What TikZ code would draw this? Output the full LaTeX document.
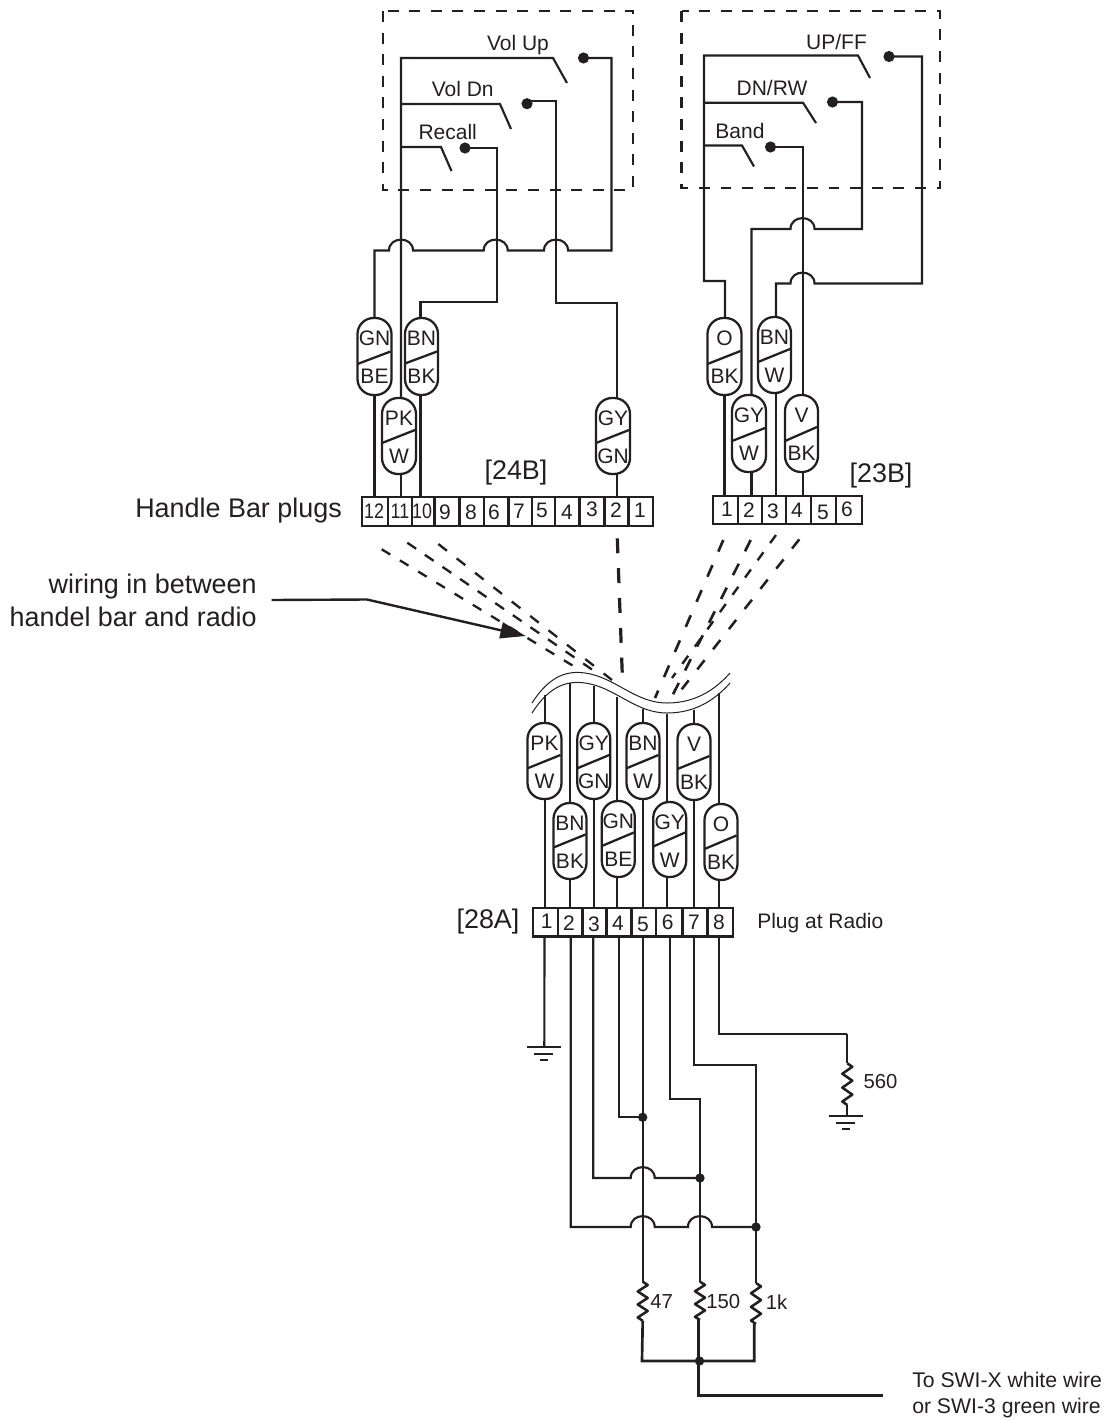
\documentclass[tikz,border=0pt]{standalone}
\usepackage{fontspec}
\usepackage{graphicx}
\setmainfont{Liberation Sans}
\usetikzlibrary{arrows.meta}
\definecolor{ink}{HTML}{231F20}
\tikzset{
  wire/.style={draw=ink,line width=1.6pt,line join=miter},
  heavywire/.style={draw=ink,line width=2pt},
  capsulebox/.style={draw=ink,line width=1.7pt,rounded corners=12pt,inner sep=0pt,outer sep=0pt},
  capline/.style={draw=ink,line width=1.7pt},
  lab/.style={text=ink,font=\fontsize{15.75}{18}\selectfont,inner sep=0pt,anchor=base},
  biglab/.style={text=ink,font=\fontsize{20.2}{24.75}\selectfont,inner sep=0pt},
  smalllab/.style={text=ink,font=\fontsize{15.2}{18}\selectfont,inner sep=0pt},
  cellbox/.style={draw=ink,line width=1.8pt,inner sep=0pt,outer sep=0pt},
  heavycell/.style={cellbox,line width=2.1pt},
  cellnum/.style={text=ink,font=\fontsize{15.75}{18}\selectfont,inner sep=0pt},
  bigdot/.style={circle,fill=ink,inner sep=0pt,minimum size=8.4pt},
  smalldot/.style={circle,fill=ink,inner sep=0pt,minimum size=7pt},
  boxdash/.style={draw=ink,line width=1.7pt,dash pattern=on 8.2pt off 8pt},
  cutline/.style={draw=ink,line width=0.75pt},
  resistor/.style={draw=ink,line width=1.9pt,line join=round}
}
% name, cx, top, width, height, upper, lower, left y of slash, right y of slash
\newcommand\capsule[9]{%
  \node[capsulebox,minimum width={#4*0.75pt},minimum height={#5*0.75pt}] (#1) at ({#2},{#3+#5/2}) {};
  \draw[capline] ({#2-#4/2},#8) -- ({#2+#4/2-1},#9);
  \node[lab] (#1u) at ({#2},{#3+27}) {#6};
  \node[lab] (#1l) at ({#2},{#3+65}) {#7};
}
% style, name, x1, x2, y1, y2, digit, text x, text y
\newcommand\cell[9]{%
  \node[#1,minimum width={(#4-#3)*0.75pt},minimum height={(#6-#5)*0.75pt}] (#2) at ({(#3+#4)/2},{(#5+#6)/2}) {};
  \node[cellnum] (#2t) at (#8,#9) {#7};
}
\newcommand\nar[1]{\scalebox{0.85}[1]{#1}}
% name, x1,y1, x2,y2, on, off, width (pt)
\newcommand\dashwire[8]{%
  \coordinate (#1a) at (#2,#3);
  \coordinate (#1b) at (#4,#5);
  \draw[draw=ink,line width=#8pt,dash pattern=on #6pt off #7pt] (#1a) -- (#1b);
}
% name, x, y1, y2
\newcommand\zigres[4]{%
  \coordinate (#1a) at (#2,#3);
  \coordinate (#1b) at (#2,#4);
  \draw[resistor] (#1a) -- ({#2+5},{#3+(#4-#3)/12}) -- ({#2-5},{#3+3*(#4-#3)/12}) -- ({#2+5},{#3+5*(#4-#3)/12})
    -- ({#2-5},{#3+7*(#4-#3)/12}) -- ({#2+5},{#3+9*(#4-#3)/12}) -- ({#2-5},{#3+11*(#4-#3)/12}) -- (#1b);
}
\def\hopr#1#2{-- ({#1-12},#2) .. controls ({#1-12},{#2-14.5}) and ({#1+12},{#2-14.5}) .. ({#1+12},#2)}
\def\hopl#1#2{-- ({#1+12},#2) .. controls ({#1+12},{#2-14.5}) and ({#1-12},{#2-14.5}) .. ({#1-12},#2)}
\newcommand\gnd[3]{%
  \coordinate (#1) at (#2,#3);
  \draw[draw=ink,line width=1.7pt] ({#2-17},#3) -- ({#2+17},#3);
  \draw[draw=ink,line width=1.7pt] ({#2-10},{#3+7}) -- ({#2+9},{#3+7});
  \draw[draw=ink,line width=1.7pt] ({#2-4},{#3+13}) -- ({#2+4},{#3+13});
}
\begin{document}
\begin{tikzpicture}[x=0.75pt,y=-0.75pt]
\useasboundingbox (0,0) rectangle (1107,1421);

% ---- dashed switch boxes
\draw[boxdash] (383,11) rectangle (633,190);
\draw[boxdash] (681.5,11) rectangle (940,188);

% ---- switch labels
\node[lab] (tUp) at (518,50) {Vol Up};
\node[lab] (tDn) at (462.7,96.7) {Vol Dn};
\node[lab] (tRe) at (447.7,139.3) {Recall};
\node[lab] (tUF) at (836.5,49) {UP/FF};
\node[lab] (tDR) at (772,95) {DN/RW};
\node[lab] (tBa) at (740,138.3) {Band};

% ---- contacts
\node[bigdot] (dUp) at (583.5,58) {};
\node[bigdot] (dDn) at (527,103.7) {};
\node[bigdot] (dRe) at (465,148) {};
\node[bigdot] (dUF) at (889,56.5) {};
\node[bigdot] (dDR) at (832.5,102) {};
\node[bigdot] (dBa) at (770.5,147) {};
\coordinate (bUp) at (567,83);
\coordinate (bDn) at (511,129);
\coordinate (bRe) at (451.5,171);
\coordinate (bUF) at (870,78);
\coordinate (bDR) at (816,123);
\coordinate (bBa) at (754,166.5);

% ---- capsules, handle bar side
\capsule{GNBE}{374.5}{318}{34}{77}{GN}{BE}{364}{351.5}
\capsule{BNBK}{421.5}{318}{33}{77}{BN}{BK}{363.5}{351.5}
\capsule{PKW}{399}{398}{34}{76}{PK}{W}{443}{430}
\capsule{GYGN}{613}{398}{34}{76}{GY}{GN}{443}{430}
\capsule{OBK}{724.5}{318}{34}{77}{O}{BK}{364}{351}
\capsule{BNW}{774.5}{317}{33}{76}{BN}{W}{362}{349}
\capsule{GYW}{749}{395}{34}{77}{GY}{W}{441}{428}
\capsule{VBK}{801.5}{395}{33}{77}{V}{BK}{441}{427}

% ---- connector 24B
\cell{cellbox}{hA}{362}{387.7}{497}{526}{\nar{12}}{374}{511}
\cell{cellbox}{hB}{387.7}{411.7}{497}{526}{\nar{11}}{400}{511}
\cell{cellbox}{hC}{411.7}{434.3}{497}{526}{\nar{10}}{422}{511}
\cell{cellbox}{hD}{434.3}{459.3}{497}{526}{9}{445}{512}
\cell{cellbox}{hE}{459.3}{484}{497}{526}{8}{471}{512.5}
\cell{cellbox}{hF}{484}{508.3}{497}{526}{6}{494}{512.5}
\cell{cellbox}{hG}{508.3}{531.7}{497}{526}{7}{519}{511}
\cell{cellbox}{hH}{531.7}{555}{497}{526}{5}{542}{510}
\cell{cellbox}{hI}{555}{579.3}{497}{526}{4}{567}{512}
\cell{cellbox}{hJ}{579.3}{604.3}{497}{526}{3}{592}{509.5}
\cell{cellbox}{hK}{604.3}{628.3}{497}{526}{2}{616}{510}
\cell{cellbox}{hL}{628.3}{653}{497}{526}{1}{640}{510}

% ---- connector 23B
\cell{cellbox}{rA}{713}{738}{496}{524}{1}{727}{509}
\cell{cellbox}{rB}{738}{762}{496}{524}{2}{749}{510}
\cell{cellbox}{rC}{762}{786}{496}{524}{3}{773}{511}
\cell{cellbox}{rD}{786}{810.7}{496}{524}{4}{797}{510}
\cell{cellbox}{rE}{810.7}{835.7}{496}{524}{5}{823}{512}
\cell{cellbox}{rF}{835.7}{861.7}{496}{524}{6}{847}{509}

% ---- wiring, left switch box
\draw[wire] (bUp) -- (553,58) -| (PKW.north -| 401,0);
\draw[wire] (bDn) -- (500,104) -- (401,104);
\draw[wire] (bRe) -- (441,147) -- (401,147);
\draw[wire] (dUp.center) -| (611.5,250.5) \hopl{556}{250.5} \hopl{495.7}{250.5} \hopl{401}{250.5} -| (GNBE.north);
\draw[wire] ([yshift=2pt]dDn.center) -| (556,303) -| (GYGN.north -| 617,0);
\draw[wire] (dRe.center) -| (497,302) -| (BNBK.north -| 420.5,0);
\draw[wire] (GNBE.south) -- (GNBE.south |- hA.north);
\draw[wire] (PKW.south -| 401,0) -- (hB.north -| 401,0);
\draw[wire] (BNBK.south -| 420.5,0) -- (hC.north -| 420.5,0);
\draw[wire] (GYGN.south -| 617,0) -- (hK.north -| 617,0);

% ---- wiring, right switch box
\draw[wire] (bUF) -- (858,55.5) -- (704,55.5) |- (725,281) -- (OBK.north -| 725,0);
\draw[wire] (bDR) -- (803,102.7) -- (704,102.7);
\draw[wire] (bBa) -- (742,145.5) -- (704,145.5);
\draw[wire] (dUF.center) -| (922,283.5) \hopl{802.5}{283.5} -| (BNW.north -| 776,0);
\draw[wire] (dDR.center) -| (862,229) \hopl{802.5}{229} -| (GYW.north -| 751.5,0);
\draw[wire] (dBa.center) -| (VBK.north -| 802.7,0);
\draw[wire] (OBK.south) -- (rA.north -| OBK.south);
\draw[wire] (GYW.south -| 751.5,0) -- (rB.north -| 751.5,0);
\draw[wire] (BNW.south -| 776,0) -- (rC.north -| 776,0);
\draw[wire] (VBK.south -| 802.7,0) -- (rD.north -| 802.7,0);

% ---- texts around plugs
\node[biglab,anchor=center] (t24) at (516,473) {[24B]};
\node[biglab,anchor=center] (t23) at (881,476) {[23B]};
\node[biglab,anchor=center] (t28) at (488,922) {[28A]};
\node[biglab,anchor=west] (tHB) at (135,511) {Handle Bar plugs};
\node[biglab,anchor=east,align=right] (tWiring) at (257,600) {wiring in between\\handel bar and radio};
\node[lab,anchor=west] (tPlug) at (757,923) {Plug at Radio};

% ---- pointer arrow
\coordinate (aBend) at (367,599.5);
\coordinate (aTip) at (525.7,636);
\draw[draw=ink,line width=1.8pt,-{Triangle[length=19pt,width=12pt]}] ([xshift=11pt]tWiring.east) -- (aBend) -- (aTip);

% ---- dashed wires between the plugs
\dashwire{xa}{381.7}{549.3}{575}{667}{7.5}{8.5}{1.75}
\dashwire{xb}{407.3}{542.7}{600}{675}{8}{8}{1.75}
\dashwire{xc}{438.3}{544}{612}{680}{8.2}{9.3}{1.75}
\dashwire{xd}{617.3}{538.3}{622.7}{686}{11.2}{11.2}{2.4}
\dashwire{xe}{723.3}{540}{655}{698}{9.5}{11}{2}
\dashwire{xf}{750.7}{540}{671.7}{697}{9.5}{10.5}{2}
\dashwire{xg}{776}{535}{672}{678}{7.5}{8.5}{1.8}
\dashwire{xh}{799.3}{539.3}{681.7}{689.3}{8.8}{10.4}{1.9}

% ---- cable break
\draw[cutline] (532,703) .. controls (548,678) and (565,670) .. (585,673) .. controls (615,677) and (635,703) .. (667,703) .. controls (695,703) and (715,690) .. (730,673);
\draw[cutline] (532,713) .. controls (548,688) and (565,680) .. (585,683) .. controls (615,687) and (635,713) .. (667,713) .. controls (695,713) and (715,700) .. (730,683);

% ---- capsules, radio side
\capsule{LPKW}{544.5}{723}{34}{76}{PK}{W}{768.3}{755}
\capsule{LGYGN}{593.8}{723}{33}{76}{GY}{GN}{768.3}{755}
\capsule{LBNW}{643}{723}{33}{76}{BN}{W}{768.3}{755}
\capsule{LVBK}{694}{724}{33}{76}{V}{BK}{769}{756}
\capsule{LBNBK}{570}{803}{33}{76}{BN}{BK}{847.5}{834.5}
\capsule{LGNBE}{618.3}{801}{33}{76}{GN}{BE}{846}{832.5}
\capsule{LGYW}{669.7}{802}{33}{75}{GY}{W}{846.5}{832.5}
\capsule{LOBK}{721}{804}{33}{76}{O}{BK}{849}{835.5}

% ---- connector 28A
\cell{heavycell}{pA}{533}{558}{908}{936.7}{1}{546.7}{921.7}
\cell{heavycell}{pB}{558}{582.7}{908}{936.7}{2}{569}{922.7}
\cell{heavycell}{pC}{582.7}{606.7}{908}{936.7}{3}{594}{924}
\cell{heavycell}{pD}{606.7}{631.7}{908}{936.7}{4}{618}{923}
\cell{heavycell}{pE}{631.7}{656}{908}{936.7}{5}{643}{924}
\cell{heavycell}{pF}{656}{682.7}{908}{936.7}{6}{667.7}{922.7}
\cell{heavycell}{pG}{682.7}{707.3}{908}{936.7}{7}{694}{922.7}
\cell{heavycell}{pH}{707.3}{733}{908}{936.7}{8}{719}{922.7}

% ---- wires above connector 28A
\draw[wire] (545,695) -- (LPKW.north -| 545,0);
\draw[wire] (LPKW.south -| 545,0) -- (pA.north -| 545,0);
\draw[wire] (569.7,682.7) -- (LBNBK.north -| 569.7,0);
\draw[wire] (LBNBK.south -| 569.7,0) -- (pB.north -| 569.7,0);
\draw[wire] (593.7,685.7) -- (LGYGN.north -| 593.7,0);
\draw[wire] (LGYGN.south -| 593.7,0) -- (pC.north -| 593.7,0);
\draw[wire] (617.3,696.7) -- (LGNBE.north -| 617.3,0);
\draw[wire] (LGNBE.south -| 617.3,0) -- (pD.north -| 617.3,0);
\draw[wire] (643.3,709) -- (LBNW.north -| 643.3,0);
\draw[wire] (LBNW.south -| 643.3,0) -- (pE.north -| 643.3,0);
\draw[wire] (667.3,714) -- (LGYW.north -| 667.3,0);
\draw[wire] (LGYW.south -| 667.3,0) -- (pF.north -| 667.3,0);
\draw[wire] (694.3,710) -- (LVBK.north -| 694.3,0);
\draw[wire] (LVBK.south -| 694.3,0) -- (pG.north -| 694.3,0);
\draw[wire] (719.3,693) -- (LOBK.north -| 719.3,0);
\draw[wire] (LOBK.south -| 719.3,0) -- (pH.north -| 719.3,0);

% ---- junctions
\node[smalldot] (jA) at (642.7,1117.3) {};
\node[smalldot] (jB) at (700,1178) {};
\node[smalldot] (jC) at (756,1227) {};
\node[smalldot] (jD) at (699.5,1361) {};

% ---- wires below connector 28A
\gnd{gA}{544.3}{1047}
\draw[wire] (pA.south -| 544.5,0) -- (gA);
\draw[wire] (pB.south -| 570.7,0) -- (570.7,1227) \hopr{642.7}{1227} \hopr{700}{1227} -- (jC.center);
\draw[wire] (pC.south -| 593.3,0) -- (593.3,1178) \hopr{642.7}{1178} -- (jB.center);
\draw[wire] (pD.south -| 618.7,0) |- (jA.center);
\draw[wire] (pF.south -| 669.7,0) |- (700,1098.7) -- (jB.center);
\draw[wire] (pG.south -| 694,0) |- (756,1065) -- (jC.center);
\draw[wire] (pH.south -| 719,0) |- (847.3,1034);

% ---- resistors
\zigres{rL}{642.7}{1281.7}{1320.7}
\zigres{rM}{700}{1281.7}{1320}
\zigres{rR}{756}{1283}{1324}
\zigres{rG}{847.3}{1063.3}{1105}
\gnd{gB}{846.3}{1116}
\draw[wire] (pE.south -| 642.7,0) -- (rLa);
\draw[wire] (jB.center) -- (rMa);
\draw[wire] (jC.center) -- (rRa);
\draw[wire] (847.3,1034) -- (rGa);
\draw[wire] (rGb) -- (rGb |- gB);
\node[smalllab,anchor=west] (t560) at (863.3,1082) {560};
\node[smalllab,anchor=west] (t47) at (650,1302) {47};
\node[smalllab,anchor=west] (t150) at (706,1302) {150};
\node[smalllab,anchor=west] (t1k) at (765.7,1302) {1k};

% ---- common bus
\coordinate (oEnd) at (882.7,1395.7);
\draw[heavywire] (rLb) -- (642,1361) -- (754.3,1361) -- (754.3,1324);
\draw[heavywire] (rMb) -- (698.7,1320) |- (oEnd);
\node[lab,anchor=west,align=left,font=\fontsize{15.9}{19.5}\selectfont] (tOut) at (912,1394.7) {To SWI-X white wire\\or SWI-3 green wire};
\end{tikzpicture}
\end{document}
